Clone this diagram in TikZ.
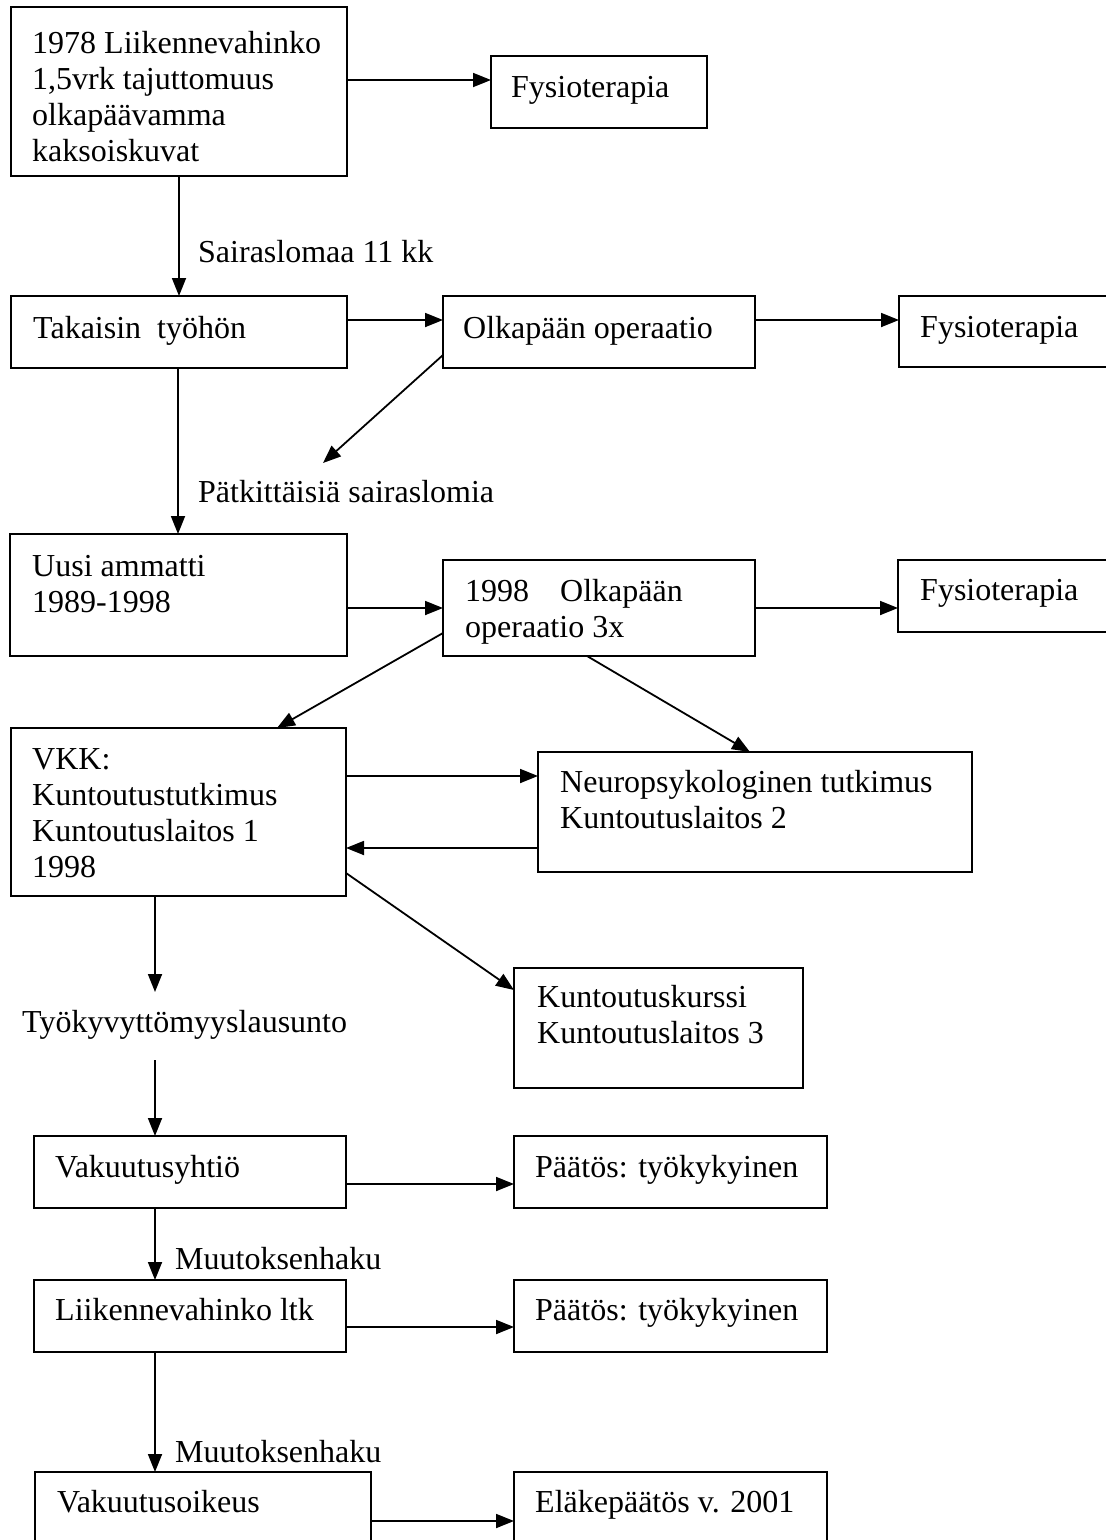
\documentclass[tikz,border=0pt]{standalone}
\usepackage{fontspec}
\setmainfont{Liberation Serif}
\usetikzlibrary{arrows.meta}
\begin{document}
\begin{tikzpicture}[x=1pt,y=-1pt,
  box/.style={draw, line width=2pt, anchor=north west, inner sep=0pt, outer sep=0pt},
  % multi-line texts are placed by the baseline of their last line
  txt/.style={anchor=base west, inner sep=0pt, align=left, font=\fontsize{32}{36}\selectfont},
  arr/.style={line width=1.8pt, -{Triangle[length=18pt,width=14pt]}}]
\useasboundingbox (0,0) rectangle (1106,1540);
\fill[white] (0,0) rectangle (1106,1540);
\clip (0,0) rectangle (1106,1540);

% boxes
\node[box,minimum width=336pt,minimum height=169pt] (b1) at (11,7) {};
\node[box,minimum width=216pt,minimum height=72pt] (f1) at (491,56) {};
\node[box,minimum width=336pt,minimum height=72pt] (b2) at (11,296) {};
\node[box,minimum width=312pt,minimum height=72pt] (op) at (443,296) {};
\node[box,minimum width=240pt,minimum height=71pt] (f2) at (899,296) {};
\node[box,minimum width=337pt,minimum height=122pt] (b3) at (10,534) {};
\node[box,minimum width=312pt,minimum height=96pt] (op2) at (443,560) {};
\node[box,minimum width=240pt,minimum height=72pt] (f3) at (898,560) {};
\node[box,minimum width=335pt,minimum height=168pt] (vkk) at (11,728) {};
\node[box,minimum width=434pt,minimum height=120pt] (np) at (538,752) {};
\node[box,minimum width=289pt,minimum height=120pt] (kk) at (514,968) {};
\node[box,minimum width=312pt,minimum height=72pt] (vy) at (34,1136) {};
\node[box,minimum width=313pt,minimum height=72pt] (p1) at (514,1136) {};
\node[box,minimum width=312pt,minimum height=72pt] (lt) at (34,1280) {};
\node[box,minimum width=313pt,minimum height=72pt] (p2) at (514,1280) {};
\node[box,minimum width=336pt,minimum height=120pt] (vo) at (35,1472) {};
\node[box,minimum width=313pt,minimum height=120pt] (el) at (514,1472) {};

% texts
\node[txt] (t1) at (32,161) {1978 Liikennevahinko\\1,5vrk tajuttomuus\\olkapäävamma\\kaksoiskuvat};
\node[txt] (tf1) at (511,97) {Fysioterapia};
\node[txt] (l1) at (198,262) {Sairaslomaa 11 kk};
\node[txt] (t2) at (33,338) {Takaisin\ \ työhön};
\node[txt] (top) at (463,338) {Olkapään operaatio};
\node[txt] (tf2) at (920,337) {Fysioterapia};
\node[txt] (l2) at (198,502) {Pätkittäisiä sairaslomia};
\node[txt] (t3) at (32,612) {Uusi ammatti\\1989-1998};
\node[txt] (top2) at (465,637) {1998\hspace{31pt}Olkapään\\operaatio 3x};
\node[txt] (tf3) at (920,600) {Fysioterapia};
\node[txt] (tv) at (32,877) {VKK:\\Kuntoutustutkimus\\Kuntoutuslaitos 1\\1998};
\node[txt] (tn) at (560,828) {Neuropsykologinen tutkimus\\Kuntoutuslaitos 2};
\node[txt] (tk) at (537,1043) {Kuntoutuskurssi\\Kuntoutuslaitos 3};
\node[txt] (l3) at (22,1032) {Työkyvyttömyyslausunto};
\node[txt] (tvy) at (55,1177) {Vakuutusyhtiö};
\node[txt] (tp1) at (535,1177) {Päätös: työkykyinen};
\node[txt] (l4) at (175,1269) {Muutoksenhaku};
\node[txt] (tlt) at (55,1320) {Liikennevahinko ltk};
\node[txt] (tp2) at (535,1320) {Päätös: työkykyinen};
\node[txt] (l5) at (175,1462) {Muutoksenhaku};
\node[txt] (tvo) at (57,1512) {Vakuutusoikeus};
\node[txt] (tel) at (535,1512) {Eläkepäätös v. 2001};

% connectors
\draw[arr] (b1.east |- 0,80) -- (f1.west |- 0,80);
\draw[arr] (179,0 |- b1.south) -- (179,0 |- b2.north);
\draw[arr] (b2.east |- 0,320) -- (op.west |- 0,320);
\draw[arr] (op.east |- 0,320) -- (f2.west |- 0,320);
\coordinate (d1) at (323,463);
\draw[arr] (op.west |- 0,355) -- (d1);
\draw[arr] (178,0 |- b2.south) -- (178,0 |- b3.north);
\draw[arr] (b3.east |- 0,608) -- (op2.west |- 0,608);
\draw[arr] (op2.east |- 0,608) -- (f3.west |- 0,608);
\draw[arr] (op2.west |- 0,633) -- (277,0 |- vkk.north);
\draw[arr] (587,0 |- op2.south) -- (750,0 |- np.north);
\draw[arr] (vkk.east |- 0,776) -- (np.west |- 0,776);
\draw[arr] (np.west |- 0,848) -- (vkk.east |- 0,848);
\draw[arr] (vkk.east |- 0,873) -- (kk.west |- 0,990);
\coordinate (d2) at (155,992);
\draw[arr] (155,0 |- vkk.south) -- (d2);
\coordinate (d3) at (155,1060);
\draw[arr] (d3) -- (155,0 |- vy.north);
\draw[arr] (vy.east |- 0,1184) -- (p1.west |- 0,1184);
\draw[arr] (155,0 |- vy.south) -- (155,0 |- lt.north);
\draw[arr] (lt.east |- 0,1327) -- (p2.west |- 0,1327);
\draw[arr] (155,0 |- lt.south) -- (155,0 |- vo.north);
\draw[arr] (vo.east |- 0,1521) -- (el.west |- 0,1521);
\end{tikzpicture}
\end{document}
